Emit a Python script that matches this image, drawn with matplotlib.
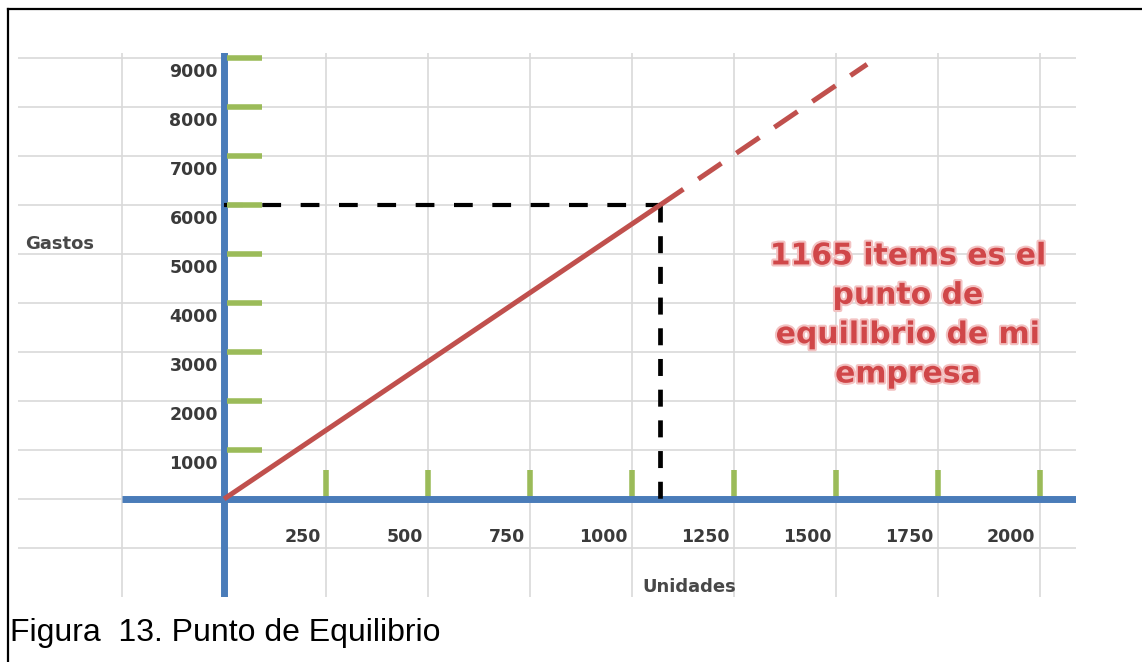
import numpy as np
import matplotlib
matplotlib.use("Agg")
import matplotlib.pyplot as plt
from matplotlib import patheffects as pe
from matplotlib.lines import Line2D

# ---------------- data ----------------
gastos_ticks = [1000, 2000, 3000, 4000, 5000, 6000, 7000, 8000, 9000]
gastos_labels = ["1000", "2000", "3000", "4000", "5000", "6000", "7000", "8000", "9000"]
unidades_ticks = [250, 500, 750, 1000, 1250, 1500, 1750, 2000]
unidades_labels = ["250", "500", "750", "1000", "1250", "1500", "1750", "2000"]

linea_unidades = [0, 1069]          # solid cost line
linea_gastos = [0, 6000]
proy_unidades = [1069, 1576]        # dashed projection
proy_gastos = [6000, 8870]
equilibrio_unidades = 1069
equilibrio_gastos = 6000

anotacion = "1165 items es el\npunto de\nequilibrio de mi\nempresa"
titulo_y = "Gastos"
titulo_x = "Unidades"
pie = "Figura  13. Punto de Equilibrio"

# ---------------- style ----------------
W, H = 1142, 662
BLUE = "#4a7cb9"
GREEN = "#9bbb59"
RED = "#c0504d"
GRID = "#d9d9d9"
LABEL = "#3a3a3a"

fig = plt.figure(figsize=(W / 100, H / 100), dpi=100)
fig.patch.set_facecolor("white")
ax = fig.add_axes([18 / W, 65 / H, 1058 / W, 544 / H])

ax.set_xlim(-505, 2088)
ax.set_ylim(-2000, 9100)
ax.set_xticks(np.arange(-250, 2001, 250))
ax.set_yticks(np.arange(-1000, 9001, 1000))
ax.tick_params(length=0, labelleft=False, labelbottom=False)
for s in ax.spines.values():
    s.set_visible(False)
ax.grid(True, color=GRID, lw=1.2, zorder=0)
ax.set_axisbelow(True)

# blue axes
ax.axvline(0, color=BLUE, lw=5, zorder=3)
ax.hlines(0, -250, ax.get_xlim()[1], color=BLUE, lw=5, zorder=3)

# black dashed guide lines
ax.plot([0, equilibrio_unidades], [equilibrio_gastos, equilibrio_gastos],
        color="black", lw=3.0, dashes=(4.5, 4.7), zorder=4, dash_capstyle="butt")
ax.plot([equilibrio_unidades, equilibrio_unidades], [equilibrio_gastos, 0],
        color="black", lw=3.4, dashes=(3.6, 2.9), zorder=4, dash_capstyle="butt")

# green tick marks
ax.hlines(gastos_ticks, 8, 93, color=GREEN, lw=4, zorder=5)
ax.vlines(unidades_ticks, 41, 592, color=GREEN, lw=4, zorder=2)

# red cost line
ax.plot(linea_unidades, linea_gastos, color=RED, lw=3.6, zorder=6,
        solid_capstyle="butt")
ax.plot(proy_unidades, proy_gastos, color=RED, lw=3.6, dashes=(5.6, 3.6),
        zorder=6, dash_capstyle="butt")

# tick labels (offset as in original)
for v, lab in zip(gastos_ticks, gastos_labels):
    ax.text(-15, v - 290, lab, ha="right", va="center", fontsize=12.5,
            fontweight="bold", color=LABEL, zorder=7)
for v, lab in zip(unidades_ticks, unidades_labels):
    ax.text(v - 12, -775, lab, ha="right", va="center", fontsize=12.5,
            fontweight="bold", color=LABEL, zorder=7)

ax.text(-488, 5204, titulo_y, ha="left", va="center", fontsize=13,
        fontweight="bold", color="#484848")
ax.text(1140, -1796, titulo_x, ha="center", va="center", fontsize=13,
        fontweight="bold", color="#484848")

ax.text(1676, 3755, anotacion, ha="center", va="center", fontsize=21.5,
        fontweight="bold", color="#d04749", linespacing=1.45, zorder=8,
        path_effects=[pe.withStroke(linewidth=3, foreground="#f3c2c2")])

# caption
fig.text(10 / W, (H - 641) / H, pie, fontsize=23, family="Liberation Sans",
         va="baseline", ha="left", color="black")

# frame (left and top edges)
fig.add_artist(Line2D([8 / W, 8 / W], [0, 1 - 8.5 / H], transform=fig.transFigure,
                      color="black", lw=1.6))
fig.add_artist(Line2D([8 / W, 1], [1 - 8.5 / H, 1 - 8.5 / H], transform=fig.transFigure,
                      color="black", lw=1.6))

fig.savefig("out.png", dpi=100, facecolor="white")
